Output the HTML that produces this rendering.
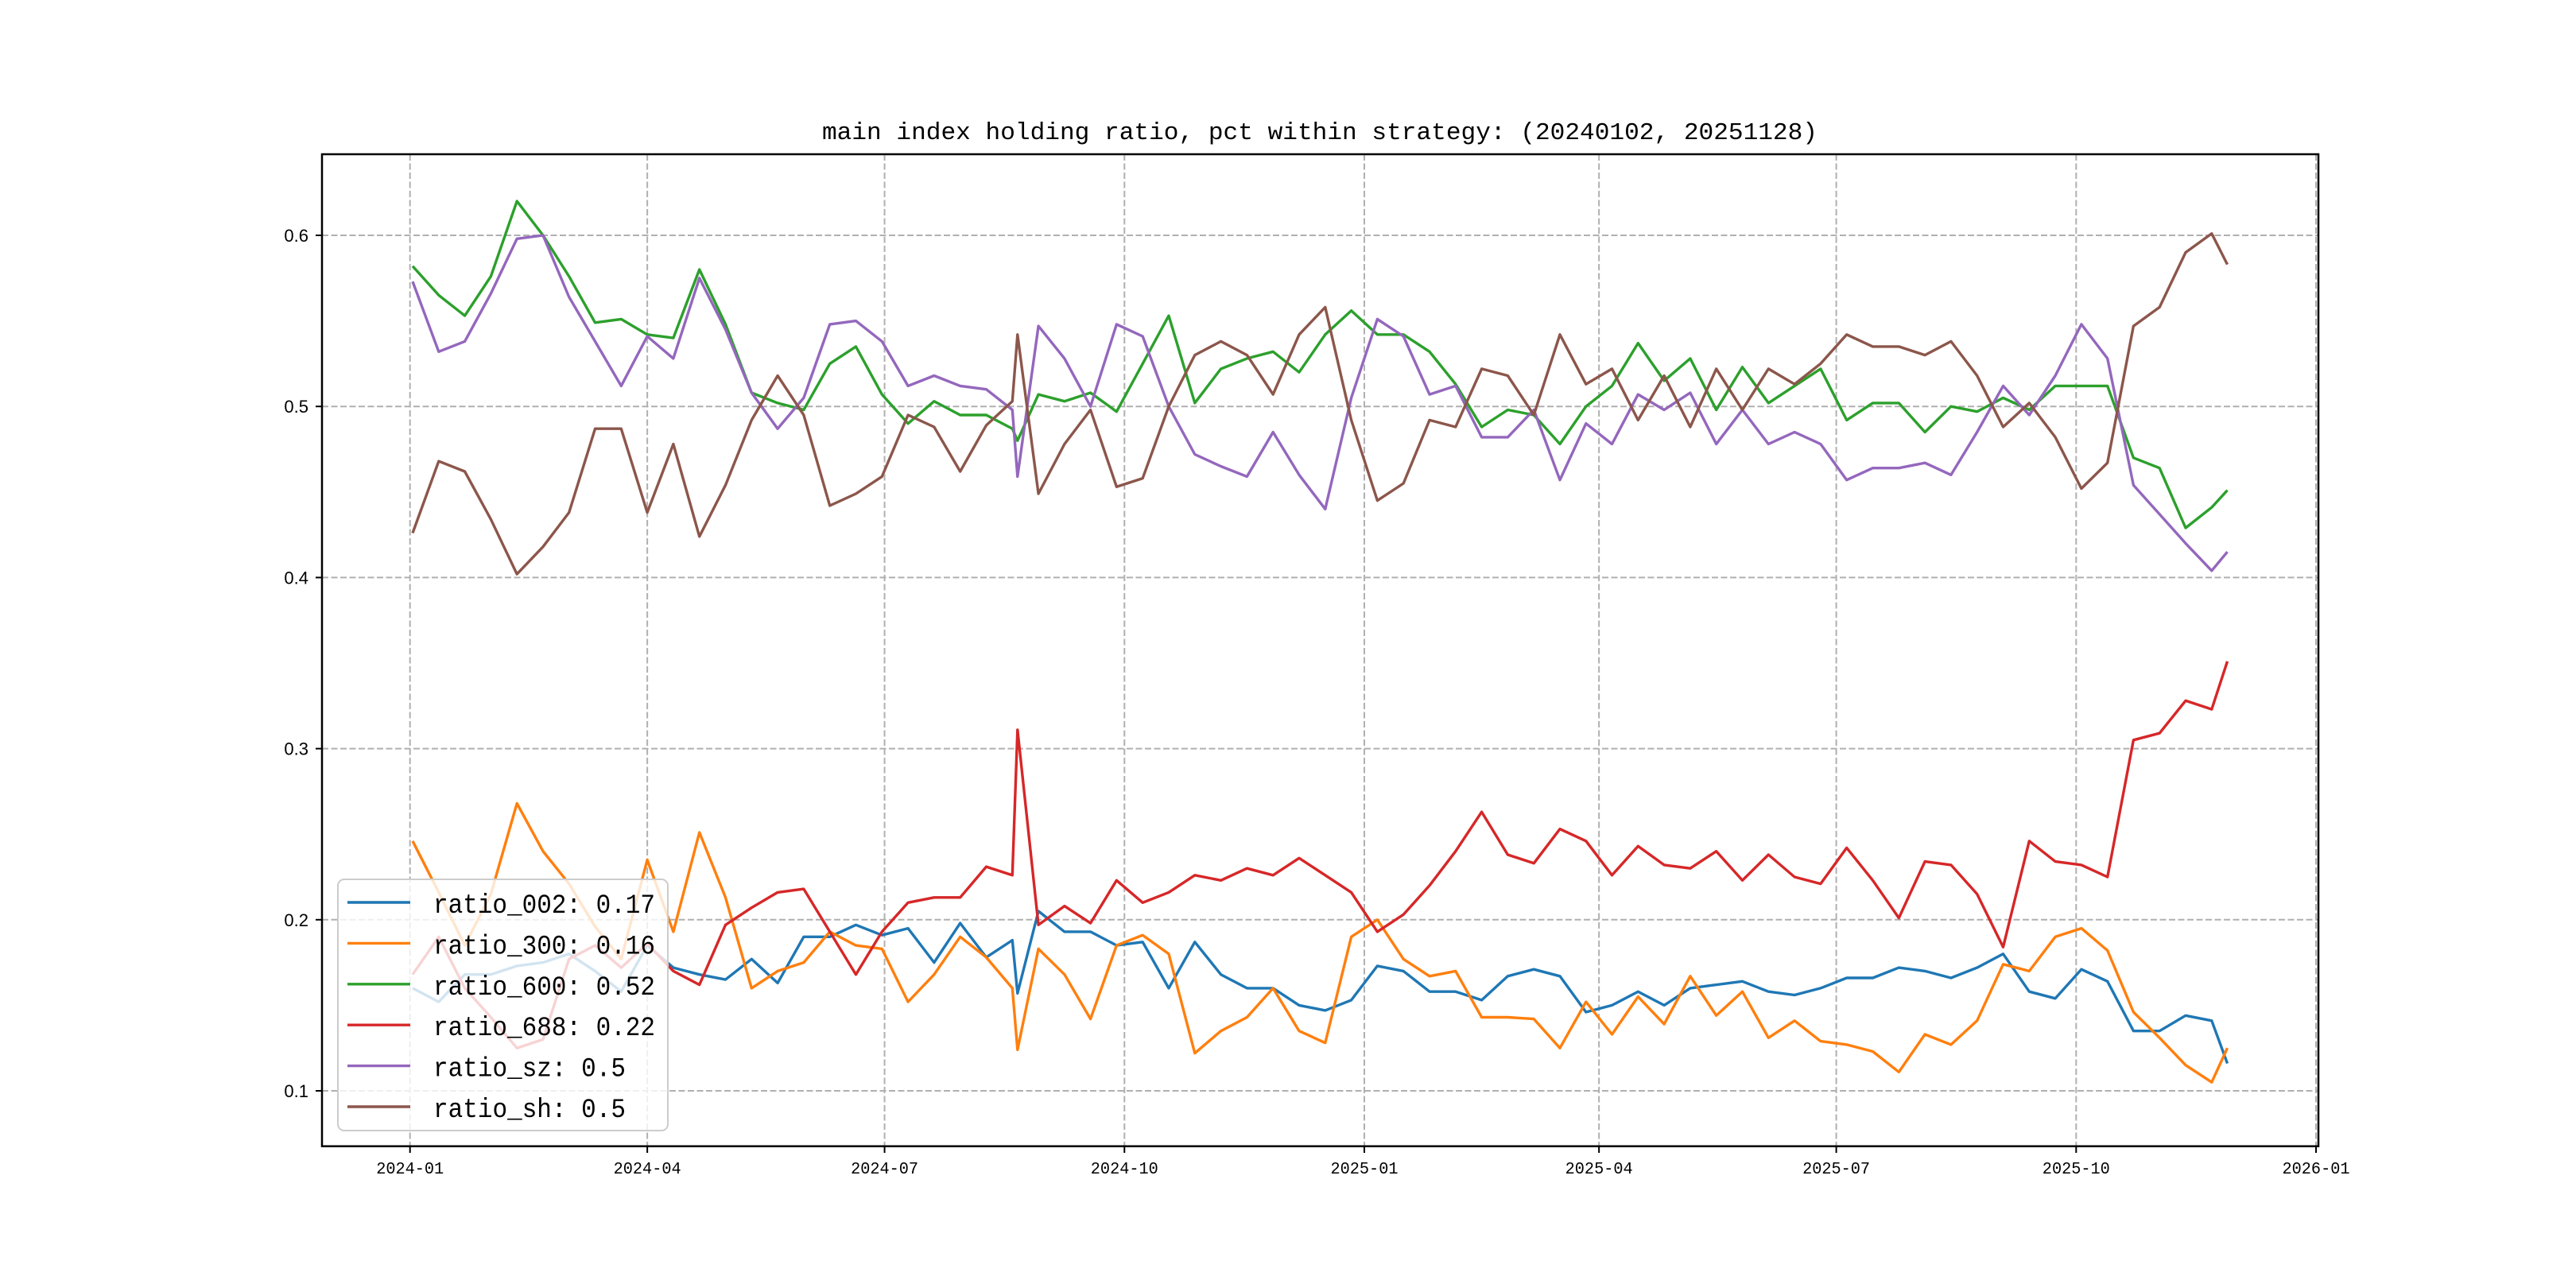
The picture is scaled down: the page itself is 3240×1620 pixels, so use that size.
<!DOCTYPE html>
<html><head><meta charset="utf-8"><style>
html,body{margin:0;padding:0;background:#fff;}
svg{display:block;}
</style></head><body>
<svg id="chart" xmlns="http://www.w3.org/2000/svg" width="3240" height="1620" viewBox="0 0 3240 1620">
<rect width="3240" height="1620" fill="#fff"/>
<text x="1660" y="175" text-anchor="middle" font-family="Liberation Mono, monospace" font-size="31" textLength="1252" lengthAdjust="spacingAndGlyphs">main index holding ratio, pct within strategy: (20240102, 20251128)</text>
<g id="grid"></g>
<g id="series"></g>
<rect x="405" y="194" width="2511" height="1247.7" fill="none" stroke="#000" stroke-width="2.5"/>
<g id="axes"></g>
<g id="legend"></g>
</svg>
<script>
const dates = ["2024-01-02","2024-01-12","2024-01-22","2024-02-01","2024-02-11","2024-02-21","2024-03-02","2024-03-12","2024-03-22","2024-04-01","2024-04-11","2024-04-21","2024-05-01","2024-05-11","2024-05-21","2024-05-31","2024-06-10","2024-06-20","2024-06-30","2024-07-10","2024-07-20","2024-07-30","2024-08-09","2024-08-19","2024-08-21","2024-08-29","2024-09-08","2024-09-18","2024-09-28","2024-10-08","2024-10-18","2024-10-28","2024-11-07","2024-11-17","2024-11-27","2024-12-07","2024-12-17","2024-12-27","2025-01-06","2025-01-16","2025-01-26","2025-02-05","2025-02-15","2025-02-25","2025-03-07","2025-03-17","2025-03-27","2025-04-06","2025-04-16","2025-04-26","2025-05-06","2025-05-16","2025-05-26","2025-06-05","2025-06-15","2025-06-25","2025-07-05","2025-07-15","2025-07-25","2025-08-04","2025-08-14","2025-08-24","2025-09-03","2025-09-13","2025-09-23","2025-10-03","2025-10-13","2025-10-23","2025-11-02","2025-11-12","2025-11-22","2025-11-28"];
const ratio002 = [.16,.152,.168,.168,.173,.175,.18,.17,.158,.185,.172,.168,.165,.177,.163,.19,.19,.197,.191,.195,.175,.198,.178,.188,.157,.205,.193,.193,.185,.187,.16,.187,.168,.16,.16,.15,.147,.153,.173,.17,.158,.158,.153,.167,.171,.167,.146,.15,.158,.15,.16,.162,.164,.158,.156,.16,.166,.166,.172,.17,.166,.172,.18,.158,.154,.171,.164,.135,.135,.144,.141,.116];
const ratio300 = [.246,.216,.185,.215,.268,.24,.221,.196,.177,.235,.193,.251,.213,.16,.17,.175,.193,.185,.183,.152,.168,.19,.178,.16,.124,.183,.168,.142,.185,.191,.18,.122,.135,.143,.16,.135,.128,.19,.2,.177,.167,.17,.143,.143,.142,.125,.152,.133,.155,.139,.167,.144,.158,.131,.141,.129,.127,.123,.111,.133,.127,.141,.174,.17,.19,.195,.182,.146,.131,.115,.105,.125];
const ratio600 = [.582,.565,.553,.576,.62,.6,.576,.549,.551,.542,.54,.58,.548,.508,.502,.498,.525,.535,.507,.49,.503,.495,.495,.487,.48,.507,.503,.508,.497,.525,.553,.502,.522,.528,.532,.52,.542,.556,.542,.542,.532,.513,.488,.498,.495,.478,.5,.512,.537,.515,.528,.498,.523,.502,.512,.522,.492,.502,.502,.485,.5,.497,.505,.498,.512,.512,.512,.47,.464,.429,.441,.451];
const ratio688 = [.168,.19,.16,.143,.125,.13,.177,.185,.172,.186,.17,.162,.197,.207,.216,.218,.193,.168,.193,.21,.213,.213,.231,.226,.311,.197,.208,.198,.223,.21,.216,.226,.223,.23,.226,.236,.226,.216,.193,.203,.22,.24,.263,.238,.233,.253,.246,.226,.243,.232,.23,.24,.223,.238,.225,.221,.242,.223,.201,.234,.232,.215,.184,.246,.234,.232,.225,.305,.309,.328,.323,.351];
const ratioSz = [.573,.532,.538,.566,.598,.6,.564,.538,.512,.541,.528,.575,.545,.508,.487,.505,.548,.55,.538,.512,.518,.512,.51,.498,.459,.547,.528,.5,.548,.541,.5,.472,.465,.459,.485,.46,.44,.505,.551,.541,.507,.512,.482,.482,.498,.457,.49,.478,.507,.498,.508,.478,.498,.478,.485,.478,.457,.464,.464,.467,.46,.485,.512,.495,.518,.548,.528,.454,.437,.42,.404,.415];
const ratioSh = [.426,.468,.462,.434,.402,.418,.438,.487,.487,.438,.478,.424,.454,.492,.518,.495,.442,.449,.459,.495,.488,.462,.489,.503,.542,.449,.478,.498,.453,.458,.5,.53,.538,.53,.507,.542,.558,.492,.445,.455,.492,.488,.522,.518,.495,.542,.513,.522,.492,.518,.488,.522,.498,.522,.513,.525,.542,.535,.535,.53,.538,.518,.488,.502,.482,.452,.467,.547,.558,.59,.601,.583];
const seriesNames = ["ratio_002","ratio_300","ratio_600","ratio_688","ratio_sz","ratio_sh"];
const legendValues = ["0.17","0.16","0.52","0.22","0.5","0.5"];
const yTicks = [0.1,0.2,0.3,0.4,0.5,0.6];
const yTickLabels = ["0.1","0.2","0.3","0.4","0.5","0.6"];
const xTicks = ["2024-01-01","2024-04-01","2024-07-01","2024-10-01","2025-01-01","2025-04-01","2025-07-01","2025-10-01","2026-01-01"];
const xTickLabels = ["2024-01","2024-04","2024-07","2024-10","2025-01","2025-04","2025-07","2025-10","2026-01"];

const NS="http://www.w3.org/2000/svg";
const colors=["#1f77b4","#ff7f0e","#2ca02c","#d62728","#9467bd","#8c564b"];
const allSeries=[ratio002,ratio300,ratio600,ratio688,ratioSz,ratioSh];
const T0=Date.UTC(2024,0,1);
function dayOf(s){const p=s.split("-");return (Date.UTC(+p[0],+p[1]-1,+p[2])-T0)/86400000;}
function xScale(s){return 515.7+dayOf(s)*3.2795;}
function yScale(v){return 1372-(v-0.1)*2152;}
function mk(tag,attrs,parent){const e=document.createElementNS(NS,tag);for(const k in attrs)e.setAttribute(k,attrs[k]);parent.appendChild(e);return e;}
const grid=document.getElementById("grid"),axes=document.getElementById("axes"),ser=document.getElementById("series"),leg=document.getElementById("legend");
yTicks.forEach((v,i)=>{const y=yScale(v);
 const g=mk("line",{x1:405,x2:2916,y1:y,y2:y,stroke:"#b0b0b0","stroke-width":2,"stroke-dasharray":"8,3.5"},grid);
 
 
 const t=mk("line",{x1:397,x2:405,y1:y,y2:y,stroke:"#000","stroke-width":2},axes);
 
 
 const l=mk("text",{x:388,y:y+8,"text-anchor":"end","font-family":"Liberation Sans, sans-serif","font-size":22},axes);
 l.textContent=yTickLabels[i];
 
 
});
xTicks.forEach((d,i)=>{const x=xScale(d);
 const g=mk("line",{x1:x,x2:x,y1:194,y2:1441.7,stroke:"#b0b0b0","stroke-width":2,"stroke-dasharray":"8,3.5"},grid);
 
 
 const t=mk("line",{x1:x,x2:x,y1:1441.7,y2:1450,stroke:"#000","stroke-width":2},axes);
 
 
 const l=mk("text",{x:x,y:1476,"text-anchor":"middle","font-family":"Liberation Mono, monospace","font-size":21,textLength:85,lengthAdjust:"spacingAndGlyphs"},axes);
 l.textContent=xTickLabels[i];
 
 
});
allSeries.forEach((vals,si)=>{
 const pts=vals.map((v,i)=>xScale(dates[i]).toFixed(1)+","+yScale(v).toFixed(1)).join(" ");
 const p=mk("polyline",{points:pts,fill:"none",stroke:colors[si],"stroke-width":3.4,"stroke-linejoin":"round"},ser);
 
 
});
const box=mk("rect",{x:425,y:1106,width:415,height:316,rx:8,fill:"#fff","fill-opacity":0.8,stroke:"#cccccc","stroke-width":2},leg);


seriesNames.forEach((n,i)=>{const y=1135+i*51.4;
 const h=mk("line",{x1:437,x2:516,y1:y,y2:y,stroke:colors[i],"stroke-width":3.4},leg);
 
 
 const label=n+": "+legendValues[i];
 const t=mk("text",{x:545,y:y+13,"font-family":"Liberation Mono, monospace","font-size":34,textLength:(label.length*18.6).toFixed(0),lengthAdjust:"spacingAndGlyphs"},leg);
 t.textContent=label;
 
 
});
</script>
</body></html>
